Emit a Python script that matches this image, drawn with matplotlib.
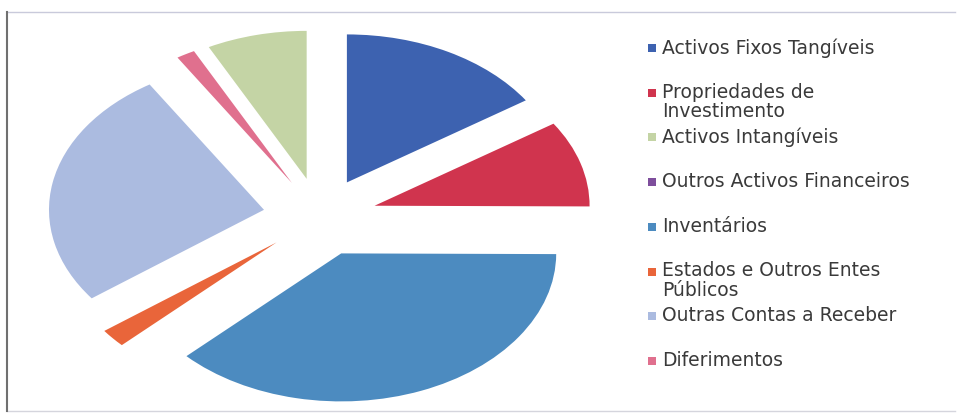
import matplotlib.pyplot as plt
from matplotlib.patches import Rectangle

# legend order
labels = ["Activos Fixos Tangíveis", "Propriedades de\nInvestimento", "Activos Intangíveis",
          "Outros Activos Financeiros", "Inventários", "Estados e Outros Entes\nPúblicos",
          "Outras Contas a Receber", "Diferimentos"]
shares = [15.6, 9.4, 7.5, 0.0, 37.6, 2.0, 26.2, 1.4]
colors = ["#3D62B0", "#D0344E", "#C4D4A5", "#7E4E9C", "#4C8BC0", "#E9653A", "#ABBBE0", "#E0708E"]

# order in which the slices run clockwise from 12 o'clock
pie_order = [0, 1, 4, 3, 5, 6, 7, 2]

W, H = 959, 416
fig = plt.figure(figsize=(W / 100, H / 100), dpi=100)

# pie axes: 215 px per unit horizontally, 148 px per unit vertically
cx, cy = 320, 217
rx, ry = 215, 148
lim = 1.35
ax = fig.add_axes([(cx - lim * rx) / W, (H - cy - lim * ry) / H, 2 * lim * rx / W, 2 * lim * ry / H])
ax.pie([shares[i] for i in pie_order], colors=[colors[i] for i in pie_order],
       explode=[0.265] * len(pie_order), startangle=90, counterclock=False,
       wedgeprops=dict(linewidth=0))
ax.set_aspect("auto")
ax.set_xlim(-lim, lim)
ax.set_ylim(-lim, lim)
ax.axis("off")

# legend, drawn by hand so the marker sits on the first line
for i, (lab, col) in enumerate(zip(labels, colors)):
    y = 48 + i * 44.7
    fig.patches.append(Rectangle((648 / W, 1 - (y + 4) / H), 8 / W, 8 / H,
                                 transform=fig.transFigure, color=col, lw=0))
    fig.text(662 / W, 1 - (y - 10) / H, lab, fontsize=13.5, color="#3A3A3A",
             va="top", ha="left", linespacing=1.0, family="DejaVu Sans")

# frame around the chart
fig.add_artist(plt.Line2D([7 / W, 955 / W], [1 - 12 / H, 1 - 12 / H], transform=fig.transFigure,
                          color="#C9CADB", lw=1))
fig.add_artist(plt.Line2D([7 / W, 955 / W], [1 - 411 / H, 1 - 411 / H], transform=fig.transFigure,
                          color="#D5D5DD", lw=1))
fig.add_artist(plt.Line2D([7 / W, 7 / W], [1 - 12 / H, 1 - 411 / H], transform=fig.transFigure,
                          color="#707070", lw=1.5))

fig.savefig("out.png", dpi=100)
